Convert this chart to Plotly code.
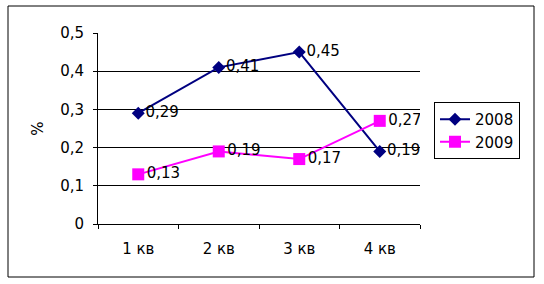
import plotly.graph_objects as go

categories = ["1 кв", "2 кв", "3 кв", "4 кв"]
series_names = ["2008", "2009"]
values_2008 = [0.29, 0.41, 0.45, 0.19]
values_2009 = [0.13, 0.19, 0.17, 0.27]
y_ticks = [0, 0.1, 0.2, 0.3, 0.4, 0.5]


def fmt(v):
    return ("%.2f" % v).replace(".", ",")


FONT = "DejaVu Sans, Arial, sans-serif"
FS = 15

fig = go.Figure()
fig.add_trace(go.Scatter(
    x=categories, y=values_2008, name=series_names[0],
    mode="lines+markers+text",
    line=dict(color="#000080", width=2),
    marker=dict(symbol="diamond", size=10, color="#000080"),
    text=[fmt(v) for v in values_2008], textposition="middle right",
    textfont=dict(family=FONT, size=FS, color="black"),
))
fig.add_trace(go.Scatter(
    x=categories, y=values_2009, name=series_names[1],
    mode="lines+markers+text",
    line=dict(color="#FF00FF", width=2),
    marker=dict(symbol="square", size=12, color="#FF00FF"),
    text=[fmt(v) for v in values_2009], textposition="middle right",
    textfont=dict(family=FONT, size=FS, color="black"),
))

L, R, T, B = 98, 420, 33, 224
W, H = 544, 284
pw, ph = R - L, B - T


def px(x):
    return (x - L) / pw


def py(y):
    return (B - y) / ph


fig.update_layout(
    width=W, height=H,
    margin=dict(l=L, r=W - R, t=T, b=H - B, pad=0),
    paper_bgcolor="white", plot_bgcolor="white",
    separators=", ",
    font=dict(family=FONT, size=FS, color="black"),
    showlegend=True,
    legend=dict(
        x=px(434), y=py(102), xanchor="left", yanchor="top",
        bordercolor="black", borderwidth=1, bgcolor="white",
        font=dict(family=FONT, size=FS, color="black"),
        tracegroupgap=0, itemwidth=30,
    ),
    xaxis=dict(
        type="category", range=[-0.5, 3.5],
        showline=True, linecolor="black", linewidth=1,
        showgrid=False, ticks="outside", tickson="boundaries",
        ticklen=4, tickcolor="black", ticklabelstandoff=11,
        tickfont=dict(family=FONT, size=FS, color="black"),
        fixedrange=True,
    ),
    yaxis=dict(
        range=[0, 0.5], tickvals=y_ticks,
        showline=True, linecolor="black", linewidth=1,
        showgrid=True, gridcolor="black", gridwidth=1,
        ticks="outside", ticklen=4, tickcolor="black",
        ticklabelstandoff=6,
        zeroline=False,
        tickfont=dict(family=FONT, size=FS, color="black"),
        title=dict(text="%", standoff=12, font=dict(family=FONT, size=FS, color="black")),
        fixedrange=True,
    ),
    shapes=[dict(
        type="rect", xref="paper", yref="paper",
        x0=px(8), x1=px(534), y0=py(277), y1=py(6),
        line=dict(color="black", width=1), fillcolor="rgba(0,0,0,0)",
        layer="below",
    )],
)

fig.write_html("out.html")
